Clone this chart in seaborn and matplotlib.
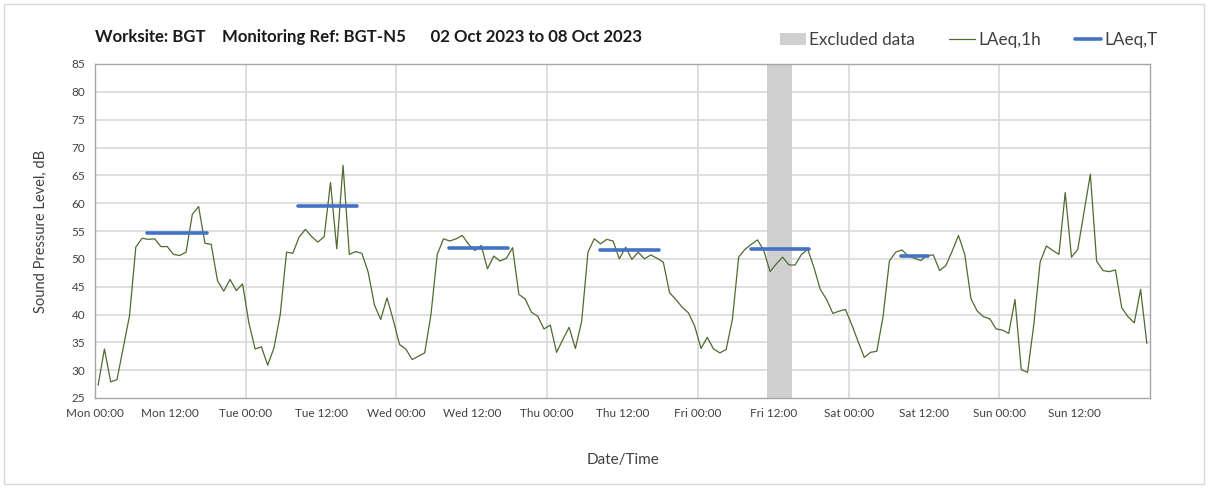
import numpy as np
import pandas as pd
import seaborn as sns
import matplotlib.pyplot as plt
from matplotlib.patches import Patch, Rectangle
from matplotlib.lines import Line2D

# hourly LAeq,1h values, Mon 00:00 .. Sun 23:00 (02-08 Oct 2023)
mon = [27.3, 33.8, 27.9, 28.3, 34.0, 39.8, 52.1, 53.7, 53.5, 53.6, 52.2, 52.2,
       50.8, 50.6, 51.2, 58.0, 59.4, 52.8, 52.6, 46.1, 44.2, 46.3, 44.3, 45.5]
tue = [38.5, 33.8, 34.2, 30.9, 34.0, 40.0, 51.2, 51.0, 53.9, 55.3, 54.0, 53.0,
       54.0, 63.7, 51.8, 66.8, 50.8, 51.3, 51.0, 47.6, 41.7, 39.1, 43.0, 39.0]
wed = [34.6, 33.8, 31.9, 32.5, 33.1, 40.0, 50.8, 53.6, 53.2, 53.6, 54.2, 52.6,
       51.5, 52.4, 48.2, 50.5, 49.6, 50.1, 52.0, 43.6, 42.8, 40.4, 39.7, 37.4]
thu = [38.1, 33.2, 35.5, 37.7, 33.9, 38.8, 51.2, 53.6, 52.7, 53.5, 53.2, 50.0,
       52.1, 49.9, 51.2, 50.0, 50.7, 50.1, 49.4, 43.9, 42.7, 41.3, 40.3, 37.9]
fri = [33.9, 35.9, 33.8, 33.1, 33.7, 39.1, 50.3, 51.7, 52.6, 53.4, 51.5, 47.7,
       49.1, 50.3, 48.9, 48.9, 50.8, 51.7, 48.4, 44.5, 42.7, 40.2, 40.6, 40.9]
sat = [38.2, 35.2, 32.3, 33.2, 33.4, 39.7, 49.6, 51.2, 51.6, 50.5, 50.1, 49.7,
       50.6, 50.7, 47.9, 48.8, 51.4, 54.2, 50.8, 42.8, 40.6, 39.6, 39.2, 37.4]
sun = [37.2, 36.6, 42.7, 30.1, 29.6, 38.2, 49.4, 52.3, 51.5, 50.8, 61.9, 50.3,
       51.7, 58.4, 65.2, 49.6, 47.9, 47.7, 48.0, 41.2, 39.6, 38.5, 44.5, 34.8]

# LAeq,T daytime periods (start hour, end hour from Mon 00:00) and level
period_start = [8.3, 32.3, 56.4, 80.4, 104.4, 128.3]
period_end = [17.8, 41.8, 65.8, 89.8, 113.7, 132.7]
period_level = [54.6, 59.5, 52.0, 51.6, 51.8, 50.5]

# excluded data window (hours from Mon 00:00)
excl_start, excl_end = 107.0, 111.0

day_names = ["Mon", "Tue", "Wed", "Thu", "Fri", "Sat", "Sun"]
tick_labels = [f"{d} {h}" for d in day_names for h in ("00:00", "12:00")]

levels = mon + tue + wed + thu + fri + sat + sun
df = pd.DataFrame({"hour": np.arange(len(levels)) + 0.5, "level": levels})

seg = pd.DataFrame({
    "hour": period_start + period_end,
    "level": period_level + period_level,
    "seg": list(range(len(period_start))) * 2,
})

sns.set_style("white")
plt.rcParams["font.family"] = ["Lato", "DejaVu Sans"]

fig = plt.figure(figsize=(12.08, 4.88), dpi=100)
ax = fig.add_axes([95 / 1208, 90 / 488, 1055 / 1208, 334 / 488])

green = "#4F6B2F"
blue = "#4472C4"
grid = "#D9D9D9"

ax.axvspan(excl_start, excl_end, color="#D0D0D0", lw=0, zorder=1)
sns.lineplot(data=df, x="hour", y="level", color=green, lw=0.9, ax=ax, zorder=3)
sns.lineplot(data=seg, x="hour", y="level", units="seg", estimator=None,
             color=blue, lw=2.6, ax=ax, zorder=4)

ax.set_xlim(0, 168)
ax.set_ylim(25, 85)
ax.set_yticks(np.arange(25, 86, 5))
ax.set_xticks(np.arange(0, 168, 12))
ax.set_xticklabels(tick_labels)

ax.grid(False)
for y in np.arange(30, 86, 5):
    ax.axhline(y, color=grid, lw=1.2, zorder=0)
for x in np.arange(24, 168, 24):
    ax.axvline(x, color=grid, lw=1.2, zorder=0)

for s in ax.spines.values():
    s.set_color("#A6A6A6")
    s.set_linewidth(1.0)
ax.tick_params(axis="both", direction="out", length=4, pad=3,
               color="#A6A6A6", labelsize=8.5, labelcolor="#404040")

ax.set_xlabel("Date/Time", fontsize=11, color="#404040", labelpad=25)
ax.set_ylabel("Sound Pressure Level, dB", fontsize=10.5, color="#404040", labelpad=17)

fig.text(95 / 1208, 1 - 37 / 488,
         "Worksite: BGT    Monitoring Ref: BGT-N5      02 Oct 2023 to 08 Oct 2023",
         fontsize=12.1, fontweight="bold", color="#1a1a1a", va="center", ha="left")

handles = [Patch(facecolor="#D0D0D0", edgecolor="none"),
           Line2D([], [], color=green, lw=0.9),
           Line2D([], [], color=blue, lw=2.6)]
fig.legend(handles, ["Excluded data", "LAeq,1h", "LAeq,T"], ncol=3,
           loc="center right", bbox_to_anchor=(0.971, 1 - 40 / 488),
           frameon=False, fontsize=12.3, handlelength=1.5, handletextpad=0.2,
           columnspacing=2.0, labelcolor="#404040")

fig.patches.append(Rectangle((4 / 1208, 4 / 488), 1 - 8 / 1208, 1 - 8 / 488,
                             transform=fig.transFigure, fill=False,
                             edgecolor="#D9D9D9", lw=1))

fig.savefig("out.png", dpi=100)
